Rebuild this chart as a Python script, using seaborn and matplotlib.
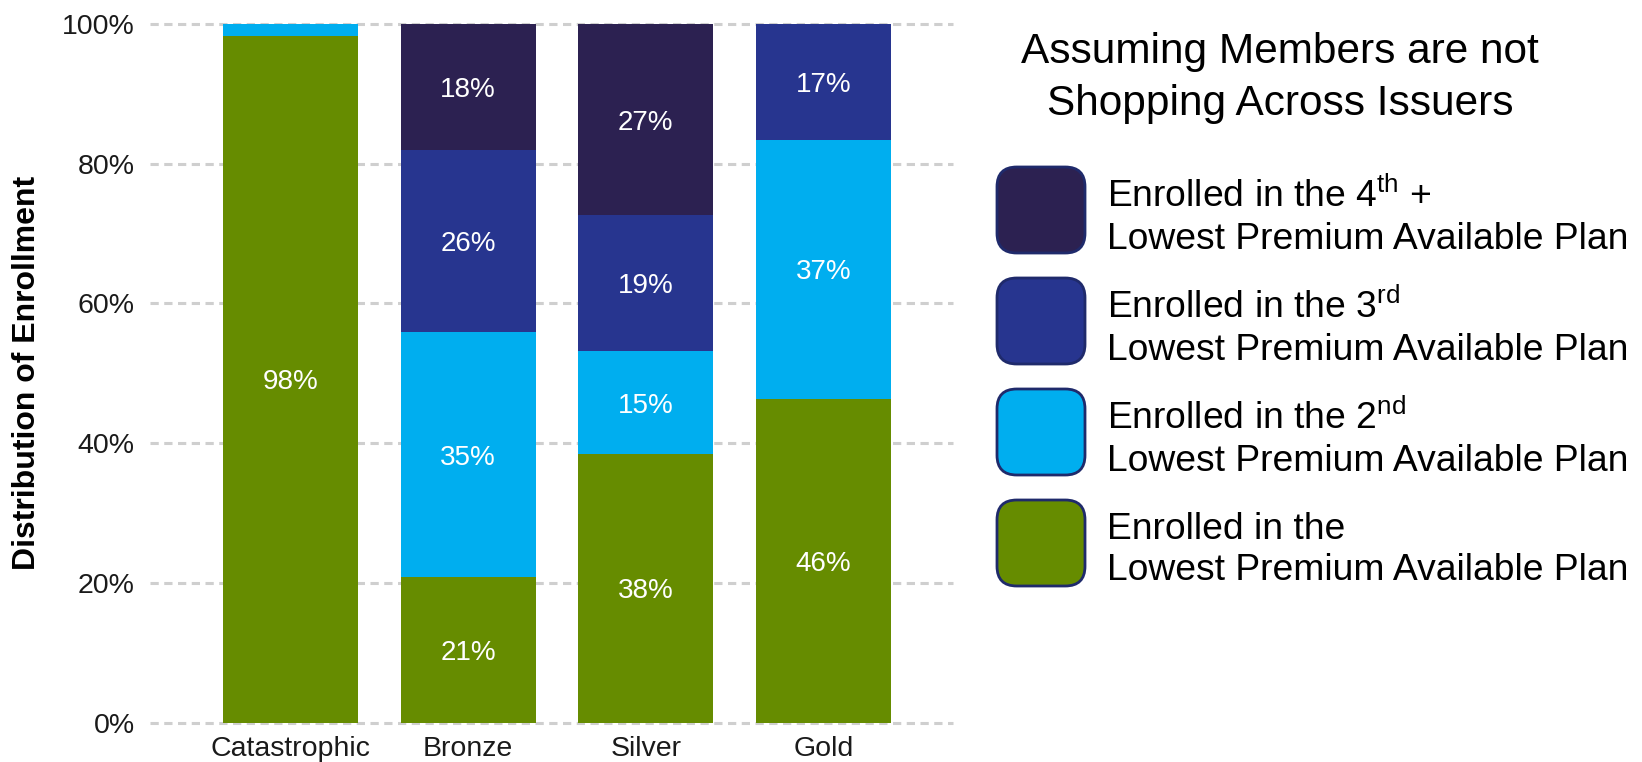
import matplotlib
matplotlib.use("Agg")
import matplotlib.pyplot as plt
from matplotlib.patches import FancyBboxPatch
import seaborn as sns
import pandas as pd
import numpy as np

# Metal tiers and the share of enrollment in each ranked plan (percent)
tiers = ["Catastrophic", "Bronze", "Silver", "Gold"]
lowest = [98.3, 20.8, 38.4, 46.3]
second = [1.7, 35.1, 14.8, 37.1]
third = [0.0, 26.0, 19.4, 16.6]
fourth = [0.0, 18.1, 27.4, 0.0]

series_names = [
    "Enrolled in the\nLowest Premium Available Plan",
    "Enrolled in the 2$^{\\mathrm{nd}}$\nLowest Premium Available Plan",
    "Enrolled in the 3$^{\\mathrm{rd}}$\nLowest Premium Available Plan",
    "Enrolled in the 4$^{\\mathrm{th}}$ +\nLowest Premium Available Plan",
]
series_colors = ["#668C00", "#00AEEF", "#27358F", "#2C2151"]
legend_title = "Assuming Members are not\nShopping Across Issuers"
yticks = [0, 20, 40, 60, 80, 100]
label_min = 5  # segments smaller than this stay unlabeled

sns.set_theme(style="white")
plt.rcParams["font.family"] = ["Liberation Sans", "DejaVu Sans"]
plt.rcParams["mathtext.fontset"] = "custom"
plt.rcParams["mathtext.rm"] = "Liberation Sans"

layers = [lowest, second, third, fourth]
cum = np.cumsum(np.array(layers), axis=0)

fig = plt.figure(figsize=(16.42, 7.62), dpi=100)
ax = fig.add_axes([0.0914, 0.0517, 0.489, 0.917])

# stack by overdrawing cumulative totals from the top layer down
for i in range(len(layers) - 1, -1, -1):
    d = pd.DataFrame({"tier": tiers, "total": cum[i]})
    sns.barplot(data=d, x="tier", y="total", color=series_colors[i],
                width=0.76, saturation=1, ax=ax, zorder=2, linewidth=0)

# segment value labels
for i, vals in enumerate(layers):
    for j, v in enumerate(vals):
        if v >= label_min:
            mid = cum[i][j] - v / 2
            ax.text(j, mid, f"{v:.0f}%", ha="center", va="center_baseline",
                    color="white", fontsize=20, zorder=3)

ax.set_xlim(-0.79, 3.73)
ax.set_ylim(0, 100)
ax.set_yticks(yticks)
ax.set_yticklabels([f"{t}%" for t in yticks])
for t in yticks:
    ax.axhline(t, color="#CFCFCF", lw=2.2, ls=(0, (2.7, 1.8)), zorder=1,
               clip_on=False)
for s in ax.spines.values():
    s.set_visible(False)
ax.tick_params(axis="both", length=0, labelsize=20.5, colors="#1a1a1a")
ax.tick_params(axis="y", pad=11)
ax.tick_params(axis="x", pad=10)
ax.set_xlabel("")
ax.set_ylabel("Distribution of Enrollment", fontsize=23, fontweight="bold",
              color="black", labelpad=0, va="center", ha="center")
ax.yaxis.set_label_coords((27 - 150) / 803, 0.5)

# legend panel on the right
fig.text(1280 / 1642, 1 - 78 / 762, legend_title, ha="center", va="center",
         fontsize=30.5, linespacing=1.41, color="black")
box_w, box_h = 88 / 1642, 86 / 762
centers_y = [543, 432, 321, 210]
for i in range(len(series_names)):
    cy = 1 - centers_y[i] / 762
    patch = FancyBboxPatch((997 / 1642, cy - box_h / 2), box_w, box_h,
                           boxstyle="round,pad=0,rounding_size=0.012",
                           transform=fig.transFigure, facecolor=series_colors[i],
                           edgecolor="#1F2A6B", linewidth=2,
                           mutation_aspect=1642 / 762)
    fig.add_artist(patch)
    fig.text(1107 / 1642, cy - 7 / 762, series_names[i], ha="left", va="center",
             fontsize=26.8, linespacing=1.25, color="black")

fig.savefig("out.png", dpi=100)
